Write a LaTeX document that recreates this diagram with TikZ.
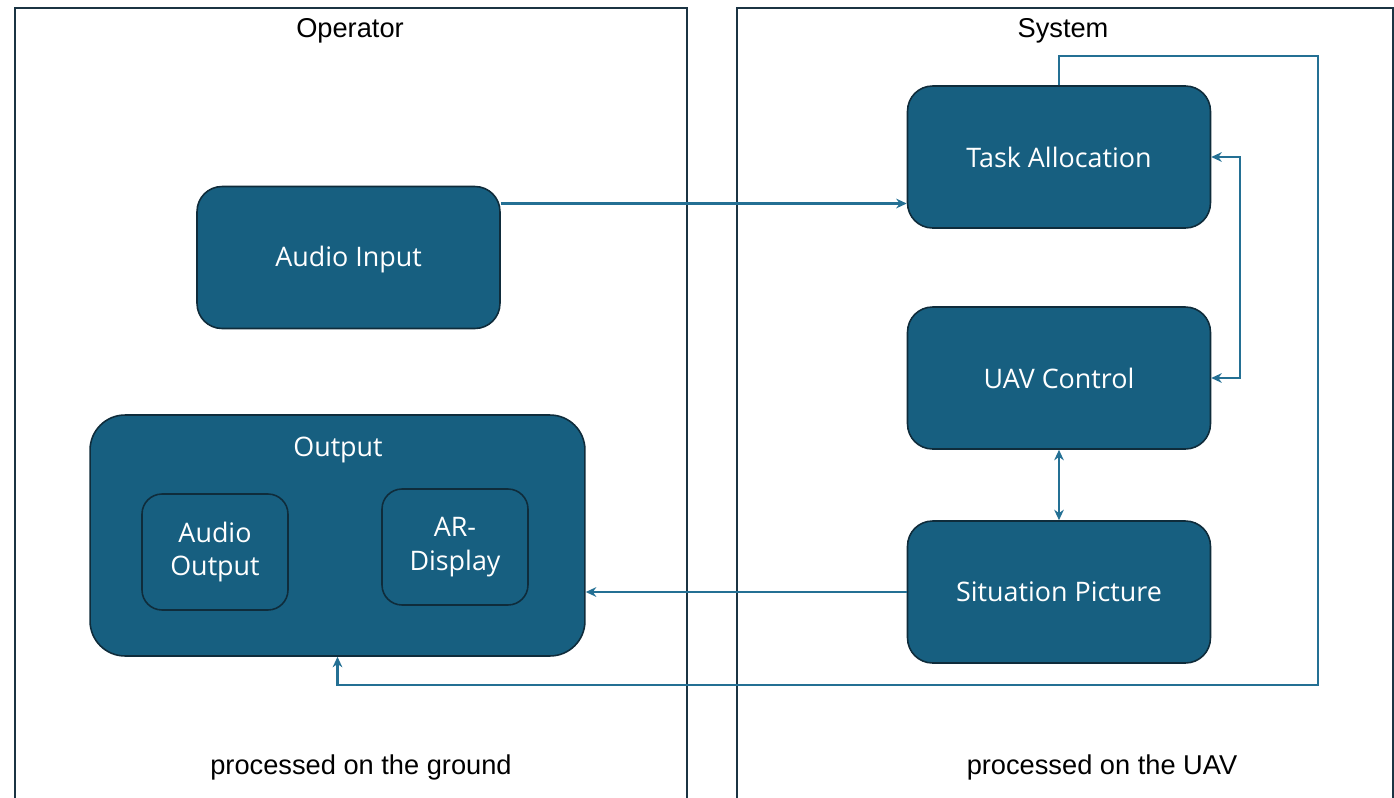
\documentclass[tikz,border=0pt]{standalone}
\usepackage{fontspec}
\setmainfont{Open Sans}
\newfontfamily\panelfont{Liberation Sans}
\usetikzlibrary{positioning, arrows.meta}

\definecolor{boxblue}{HTML}{175F80}
\definecolor{boxline}{HTML}{0F2C3B}
\definecolor{arrowblue}{HTML}{247094}
\definecolor{panelline}{HTML}{1B3443}

\tikzset{
  panel/.style={draw=panelline, line width=1.1pt, anchor=north west},
  block/.style={draw=boxline, line width=0.9pt, fill=boxblue, rounded corners=0.5cm,
    text=white, align=center, font=\fontsize{15.3}{19}\selectfont,
    minimum width=6.06cm, minimum height=2.84cm},
  subblock/.style={block, rounded corners=0.4cm, minimum width=2.92cm, minimum height=2.32cm},
  paneltext/.style={font=\panelfont\fontsize{15.5}{18}\selectfont},
  arr/.style={draw=arrowblue, line width=1.2pt, ->, >={Stealth[length=6pt, width=5.5pt]}},
  darr/.style={arr, <->}
}

\begin{document}
\begin{tikzpicture}[x=0.02cm, y=-0.02cm]
\clip (0,0) rectangle (1394,798);
\fill[white] (0,0) rectangle (1394,798);

% the two sides
\node[panel, minimum width=13.44cm, minimum height=17cm] (ground) at (14,7) {};
\node[panel, minimum width=13.12cm, minimum height=17cm] (uavside) at (736,7) {};
\node[paneltext] (optitle) at (350,31) {Operator};
\node[paneltext] (systitle) at (1063,31) {System};
\node[paneltext] (gnote) at (361,767) {processed on the ground};
\node[paneltext] (unote) at (1102,767) {processed on the UAV};

% operator
\node[block] (ain) at (348.5,257.5) {};
\node[text=white, font=\fontsize{15.3}{19}\selectfont] (aintext) at (348.5,260) {Audio Input};
\node[block, rounded corners=0.7cm, minimum width=9.9cm, minimum height=4.82cm] (out) at (337.5,535.5) {};
\node[text=white, font=\fontsize{15.3}{19}\selectfont] (outtitle) at (338,450) {Output};
\node[subblock] (aout) at (215,552) {Audio\\Output};
\node[subblock] (ardisp) at (455,547) {AR-\\Display};

% system
\node[block] (task) at (1059,157) {Task Allocation};
\node[block] (uav) at (1059,378) {UAV Control};
\node[block] (sit) at (1059,592) {Situation Picture};

\coordinate (loopTR) at (1318,56);
\coordinate (loopBR) at (1318,685);

\draw[arr] ([yshift=1.08cm]ain.east) -- ([yshift=1.08cm]ain.east -| task.west);
\draw[darr] (task.east) -- ++(29,0) |- (uav.east);
\draw[darr] (uav) -- (sit);
\draw[arr] (sit.west) -- (sit.west -| out.east);
\draw[arr] (task.north) |- (loopTR) -- (loopBR) -| (out.south);
\end{tikzpicture}
\end{document}
